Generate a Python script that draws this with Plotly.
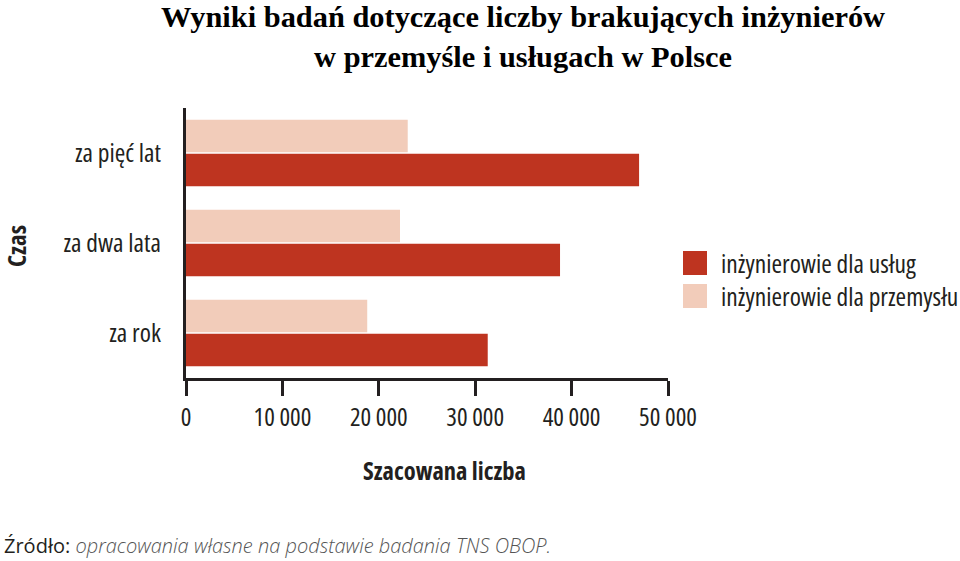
import plotly.graph_objects as go

categories = ["za rok", "za dwa lata", "za pięć lat"]
uslugi = [31300, 38800, 47000]
przemysl = [18800, 22200, 23000]
series_names = ["inżynierowie dla usług", "inżynierowie dla przemysłu"]
tick_vals = [0, 10000, 20000, 30000, 40000, 50000]
tick_text = ["0", "10 000", "20 000", "30 000", "40 000", "50 000"]

DARK = "#BE3420"
LIGHT = "#F2CCBA"
AXIS = "#231F20"
FONT = "Open Sans, Liberation Sans Narrow, sans-serif"

def c(s):
    return "<span style='font-stretch:condensed'>" + s + "</span>"

def f(size, color=AXIS):
    return dict(family=FONT, size=size, color=color)

fig = go.Figure()
fig.add_trace(go.Bar(y=categories, x=uslugi, orientation="h", name=series_names[0],
                     marker=dict(color=DARK, line=dict(width=0)), showlegend=False))
fig.add_trace(go.Bar(y=categories, x=przemysl, orientation="h", name=series_names[1],
                     marker=dict(color=LIGHT, line=dict(width=0)), showlegend=False))

W, H = 960, 561
L, R, T, B = 186, 292, 108, 183
pw, ph = W - L - R, H - T - B

def px(x):
    return (x - L) / pw

def py(y):
    return (H - B - y) / ph

# manual legend (swatches + labels)
for i, (name, col) in enumerate([(series_names[0], DARK), (series_names[1], LIGHT)]):
    top = 251 + i * 33
    fig.add_shape(type="rect", xref="paper", yref="paper",
                  x0=px(683), x1=px(707), y0=py(top + 24), y1=py(top),
                  fillcolor=col, line=dict(width=0))
    fig.add_annotation(xref="paper", yref="paper", x=px(719), y=py(top + 12),
                       text=c(name), showarrow=False, xanchor="left", yanchor="middle",
                       font=f(25.5))

# title
fig.add_annotation(xref="paper", yref="paper", x=px(523), y=py(-1),
                   text="<b>Wyniki badań dotyczące liczby brakujących inżynierów<br>w przemyśle i usługach w Polsce</b>",
                   showarrow=False, xanchor="center", yanchor="top", borderpad=0,
                   font=dict(family="Liberation Serif, Times New Roman, serif", size=30.4, color="black"))
# x axis title
fig.add_annotation(xref="paper", yref="paper", x=px(444), y=py(470),
                   text=c("<b>Szacowana liczba</b>"), showarrow=False,
                   xanchor="center", yanchor="middle", font=f(24.5))
# y axis title
fig.add_annotation(xref="paper", yref="paper", x=px(16), y=py(246),
                   text=c("<b>Czas</b>"), showarrow=False, textangle=-90, borderpad=0,
                   xanchor="center", yanchor="middle", font=f(25))
# source
fig.add_annotation(xref="paper", yref="paper", x=px(2), y=py(545),
                   text="Źródło: <i><span style='color:#555555;font-weight:300'>opracowania własne na podstawie badania TNS OBOP.</span></i>",
                   showarrow=False, xanchor="left", yanchor="middle", font=f(20))

fig.update_layout(
    width=W, height=H,
    margin=dict(l=L, r=R, t=T, b=B, pad=0),
    paper_bgcolor="white", plot_bgcolor="white",
    barmode="group", bargap=0.24, bargroupgap=0.05,
    xaxis=dict(range=[0, 50000], tickvals=tick_vals, ticktext=[c(t) for t in tick_text],
               showline=True, linecolor=AXIS, linewidth=3,
               ticks="outside", ticklen=15, tickwidth=3, tickcolor=AXIS,
               showgrid=False, zeroline=False, tickfont=f(25)),
    yaxis=dict(categoryorder="array", categoryarray=categories,
               tickmode="array", tickvals=categories, ticktext=[c(t) for t in categories],
               showline=True, linecolor=AXIS, linewidth=3,
               ticks="", showgrid=False, zeroline=False,
               ticklabelstandoff=17, tickfont=f(25.5)),
)

fig.write_html("out.html")
